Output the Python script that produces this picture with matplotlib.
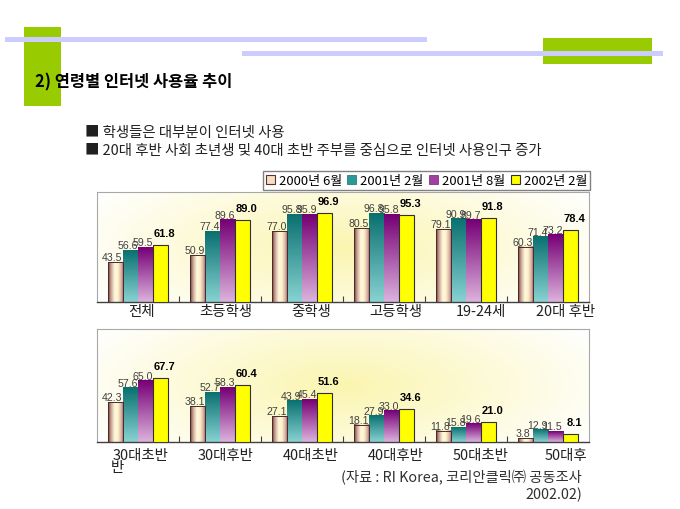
import numpy as np
import matplotlib.pyplot as plt
from matplotlib.colors import LinearSegmentedColormap
from matplotlib.patches import Rectangle, Patch
from matplotlib.transforms import ScaledTranslation

plt.rcParams['font.family'] = ['Noto Sans CJK KR', 'DejaVu Sans']

# 데이터
series = ['2000년 6월', '2001년 2월', '2001년 8월', '2002년 2월']

top_groups = ['전체', '초등학생', '중학생', '고등학생', '19-24세', '20대 후반']
top_2000_06 = [43.5, 50.9, 77.0, 80.5, 79.1, 60.3]
top_2001_02 = [56.6, 77.4, 95.8, 96.8, 90.9, 71.4]
top_2001_08 = [59.5, 89.6, 95.9, 95.8, 89.7, 73.2]
top_2002_02 = [61.8, 89.0, 96.9, 95.3, 91.8, 78.4]

bottom_groups = ['30대초반', '30대후반', '40대초반', '40대후반', '50대초반', '50대후']
bottom_2000_06 = [42.3, 38.1, 27.1, 18.1, 11.8, 3.8]
bottom_2001_02 = [57.6, 52.7, 43.9, 27.9, 15.8, 12.9]
bottom_2001_08 = [65.0, 58.3, 45.4, 33.0, 19.6, 11.5]
bottom_2002_02 = [67.7, 60.4, 51.6, 34.6, 21.0, 8.1]

W, H = 680, 510


def fx(px):
    return px / W


def fy(py):
    return 1 - py / H


# 막대 그라데이션
cmap_cream = LinearSegmentedColormap.from_list(
    'cream', [(0, '#6a3838'), (0.18, '#c8a090'), (0.42, '#fff8dc'),
              (0.62, '#fff4cc'), (0.85, '#d8b0a4'), (1, '#84545c')])
cmap_teal = LinearSegmentedColormap.from_list('teal', ['#88d2d2', '#0a7070'])
cmap_purple = LinearSegmentedColormap.from_list('purple', ['#dcb2dc', '#760076'])
cmap_bg = LinearSegmentedColormap.from_list('bg', ['#ffffff', '#fbf5b0'])

grad_h = np.linspace(0, 1, 64).reshape(1, -1)
grad_v = np.linspace(0, 1, 64).reshape(-1, 1)

fig = plt.figure(figsize=(6.8, 5.1), dpi=100)
fig.patch.set_facecolor('white')

# 장식
fig.add_artist(Rectangle((fx(24), fy(107)), 37 / W, 79 / H, transform=fig.transFigure,
                         facecolor='#99cc00', edgecolor='none', zorder=1))
fig.add_artist(Rectangle((fx(543), fy(65)), 109 / W, 26 / H, transform=fig.transFigure,
                         facecolor='#99cc00', edgecolor='none', zorder=1))
fig.add_artist(Rectangle((fx(5), fy(43)), 422 / W, 5 / H, transform=fig.transFigure,
                         facecolor='#ccccff', edgecolor='none', zorder=2))
fig.add_artist(Rectangle((fx(242), fy(57)), 421 / W, 5 / H, transform=fig.transFigure,
                         facecolor='#ccccff', edgecolor='none', zorder=2))

fig.text(fx(35), fy(82), '2) 연령별 인터넷 사용율 추이', fontsize=11.8, fontweight='bold',
         va='center', ha='left', zorder=3)
fig.text(fx(85), fy(133), '■ 학생들은 대부분이 인터넷 사용', fontsize=10.4, va='center',
         color='#202020')
fig.text(fx(85), fy(151), '■ 20대 후반 사회 초년생 및 40대 초반 주부를 중심으로 인터넷 사용인구 증가',
         fontsize=10.4, va='center', color='#202020')


def draw(ax, groups, vals, pad):
    n = len(groups)
    x = np.arange(n)
    w = 0.183
    yy, xx = np.mgrid[0:1:120j, 0:1:200j]
    r = np.sqrt(((xx - 0.5) / 0.6) ** 2 + ((yy - 0.5) / 0.9) ** 2)
    ax.imshow(np.clip(1 - r, 0, 1), extent=(0, 1, 0, 1), transform=ax.transAxes,
              origin='lower', aspect='auto', cmap=cmap_bg, vmin=0, vmax=1, zorder=0)

    styles = [
        dict(cmap=cmap_cream, grad=grad_h, edge='#4a2a2a', lw=0.7, face='none'),
        dict(cmap=cmap_teal, grad=grad_v, edge='none', lw=0, face='none'),
        dict(cmap=cmap_purple, grad=grad_v, edge='none', lw=0, face='none'),
        dict(cmap=None, grad=None, edge='#303030', lw=0.8, face='#ffff00'),
    ]
    for j, (v, st) in enumerate(zip(vals, styles)):
        bars = ax.bar(x + (j - 1.5) * w, v, w, facecolor=st['face'],
                      edgecolor=st['edge'], linewidth=st['lw'], zorder=3)
        for p, val in zip(bars.patches, v):
            x0, y0, bw, bh = p.get_x(), p.get_y(), p.get_width(), p.get_height()
            if st['cmap'] is not None:
                ax.imshow(st['grad'], extent=(x0, x0 + bw, y0, y0 + bh), cmap=st['cmap'],
                          origin='lower', aspect='auto', interpolation='bilinear', zorder=2)
            if j == 3:
                ax.annotate(f'{val:.1f}', xy=(x0 + bw / 2, bh), xytext=(4, 12),
                            textcoords='offset pixels', ha='center', va='center',
                            fontsize=8, fontweight='bold', family='Liberation Sans',
                            color='black', zorder=5)
            else:
                ax.annotate(f'{val:.1f}', xy=(x0 + bw / 2, bh), xytext=(-3, 5),
                            textcoords='offset pixels', ha='center', va='center',
                            fontsize=7.6, family='Liberation Sans', color='#404040', zorder=5)

    ax.set_xlim(-0.5, n - 0.5)
    ax.set_ylim(0, 120)
    ax.set_yticks([])
    ax.set_xticks(x)
    ax.set_xticklabels(groups, fontsize=10.4, color='#202020')
    ax.set_xticks(np.arange(0.5, n - 0.5, 1), minor=True)
    ax.tick_params(axis='x', which='major', length=0, pad=pad)
    ax.tick_params(axis='x', which='minor', direction='in', length=4, color='#404040', width=0.8)
    for i, lab in enumerate(ax.get_xticklabels()):
        lab.set_transform(lab.get_transform() + ScaledTranslation((3 + 3 * i) / 100, 0, fig.dpi_scale_trans))
    for s in ['top', 'left', 'right']:
        ax.spines[s].set_color('#a8a8a8')
        ax.spines[s].set_linewidth(0.8)
    ax.spines['bottom'].set_color('#404040')
    ax.spines['bottom'].set_linewidth(1.0)


ax1 = fig.add_axes([fx(97), fy(303), 492 / W, 110 / H])
draw(ax1, top_groups, [top_2000_06, top_2001_02, top_2001_08, top_2002_02], 1.5)

ax2 = fig.add_axes([fx(97), fy(443), 492 / W, 113 / H])
draw(ax2, bottom_groups, [bottom_2000_06, bottom_2001_02, bottom_2001_08, bottom_2002_02], 4.5)
ax2.annotate('반', xy=(0, 0), xycoords=('data', 'axes fraction'), xytext=(-21, -25),
             textcoords='offset pixels', ha='center', va='center', fontsize=10.4, color='#202020')

# 범례
handles = [Patch(facecolor='#f4e0c0', edgecolor='#5a3030', linewidth=0.8),
           Patch(facecolor='#2a9a9a', edgecolor='#1a6a6a', linewidth=0.5),
           Patch(facecolor='#a040a0', edgecolor='#702070', linewidth=0.5),
           Patch(facecolor='#ffff00', edgecolor='#303030', linewidth=0.8)]
fig.legend(handles, series, loc='center', bbox_to_anchor=(fx(263), fy(191), 327 / W, 19 / H),
           mode='expand', ncol=4, fontsize=9.4, frameon=True, fancybox=False,
           edgecolor='#808080', handlelength=0.7, handleheight=0.7, handletextpad=0.3,
           borderpad=0.2, columnspacing=0.5, borderaxespad=0, framealpha=1)

# 출처
fig.text(fx(582), fy(478), '(자료 : RI Korea, 코리안클릭㈜ 공동조사', fontsize=10.3,
         ha='right', va='center', color='#303030')
fig.text(fx(582), fy(495), '2002.02)', fontsize=10.3, ha='right', va='center', color='#303030')

fig.savefig('out.png', dpi=100)
